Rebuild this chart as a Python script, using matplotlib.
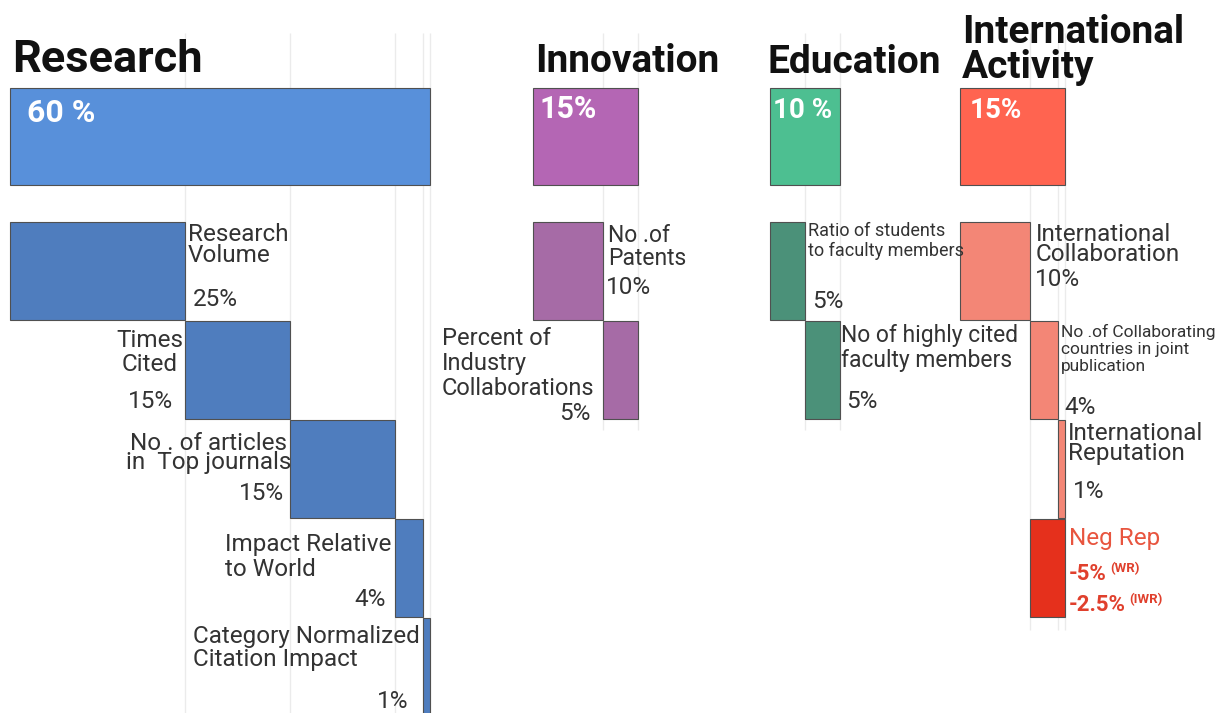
import matplotlib
matplotlib.use("Agg")
import matplotlib.pyplot as plt

plt.rcParams['font.family'] = ['Roboto', 'DejaVu Sans']

#***data
groups = ['Research', 'Innovation', 'Education', 'International\nActivity']
group_weights = [60, 15, 10, 15]
group_weight_labels = ['60 %', '15%', '10 %', '15%']

research_items = ['Research\nVolume', 'Times\nCited', 'No . of articles\nin  Top journals',
                  'Impact Relative\nto World', 'Category Normalized\nCitation Impact']
research_values = [25, 15, 15, 4, 1]

innovation_items = ['No .of\nPatents', 'Percent of\nIndustry\nCollaborations']
innovation_values = [10, 5]

education_items = ['Ratio of students\nto faculty members', 'No of highly cited\nfaculty members']
education_values = [5, 5]

international_items = ['International\nCollaboration',
                       'No .of Collaborating\ncountries in joint\npublication',
                       'International\nReputation', 'Neg Rep']
international_values = [10, 4, 1, -5]
neg_rep_labels = ['-5%', '-2.5%']
neg_rep_notes = ['(WR)', '(IWR)']

#***styles / layout
PX = 7.0  # pixels per percent point
group_x0 = [0, (533 - 10) / PX, (770 - 10) / PX, (960 - 10) / PX]
header_colors = ['#5890DA', '#B466B4', '#4DBF91', '#FF6450']
sub_colors = ['#4F7DBE', '#A66BA6', '#4B9179', '#F38676']
neg_color = '#E5301C'
text_color = '#333333'
edge = '#505050'

header_top, header_h = 0.88, 0.97
row_top0, row_step, row_h = 2.22, 0.99, 0.975

# (side, name dx, name dy, name ha, multialign, pct dx, pct dy, pct ha, size, linespacing)
research_lay = [('r', 3, 1, 'left', 'left', 8, 77, 'left', 17.5, 0.9),
                ('l', -2, 8, 'right', 'center', -12, 81, 'right', 17.5, 1.03),
                ('l', 1, 12, 'right', 'center', -6, 74, 'right', 17.5, 0.78),
                ('l', -4, 14, 'right', 'left', -9, 80, 'right', 17.5, 1.1),
                ('l', -3, 7, 'right', 'left', -15, 84, 'right', 17.5, 1.0)]
innovation_lay = [('r', 5, 2, 'left', 'left', 3, 66, 'left', 16.5, 1.0),
                  ('l', -9, 6, 'right', 'left', -12, 93, 'right', 17, 1.12)]
education_lay = [('r', 3, 0, 'left', 'left', 7, 80, 'left', 13, 1.1),
                 ('r', 1, 3, 'left', 'left', 6, 81, 'left', 16.5, 1.12)]
international_lay = [('r', 6, 1, 'left', 'left', 5, 57, 'left', 17.5, 0.85),
                     ('r', 3, 3, 'left', 'left', 6, 86, 'left', 12.5, 1.15),
                     ('r', 3, 2, 'left', 'left', 8, 72, 'left', 17.5, 0.85),
                     ('r', 4, 8, 'left', 'left', 4, 55, 'left', 17.5, 1.0)]
title_lay = [(2, 16, 32.5), (2, 16, 28), (-3, 15, 28), (2, 10, 28)]
header_lbl_lay = [(17, 25, 23), (7, 21, 22), (3, 23, 20), (10, 23, 20)]
grid_bottom = [7.13, 4.3, 4.3, 6.3]

all_items = [research_items, innovation_items, education_items, international_items]
all_values = [research_values, innovation_values, education_values, international_values]
all_lay = [research_lay, innovation_lay, education_lay, international_lay]

fig = plt.figure(figsize=(12.16, 7.13), dpi=100)
ax = fig.add_axes([0, 0, 1, 1])
ax.set_xlim(-10 / PX, (1216 - 10) / PX)
ax.set_ylim(7.13, 0)
ax.axis('off')

for g in range(len(groups)):
    x0 = group_x0[g]
    # header bar
    ax.barh(header_top + header_h / 2, group_weights[g], left=x0, height=header_h,
            color=header_colors[g], edgecolor=edge, linewidth=0.8, zorder=2)
    dx, dy, fs = header_lbl_lay[g]
    ax.annotate(group_weight_labels[g], xy=(x0, header_top), xytext=(dx, -dy),
                textcoords='offset pixels', ha='left', va='center', color='white',
                fontsize=fs, fontweight='bold', zorder=3)
    tdx, tdy, tfs = title_lay[g]
    ax.annotate(groups[g], xy=(x0, header_top), xytext=(tdx, tdy),
                textcoords='offset pixels', ha='left', va='baseline', color='#111111',
                fontsize=tfs, fontweight='bold', linespacing=0.92)
    # sub bars, cascading
    cum = 0
    ends = []
    for i, (name, v) in enumerate(zip(all_items[g], all_values[g])):
        top = row_top0 + i * row_step
        color = neg_color if v < 0 else sub_colors[g]
        ax.barh(top + row_h / 2, v, left=x0 + cum, height=row_h, color=color,
                edgecolor=edge, linewidth=0.8, zorder=2)
        lo, hi = min(cum, cum + v), max(cum, cum + v)
        side, ndx, ndy, nha, malign, pdx, pdy, pha, fs, ls = all_lay[g][i]
        anchor = x0 + (hi if side == 'r' else lo)
        if v < 0:
            ax.annotate(name, xy=(anchor, top), xytext=(ndx, -ndy), textcoords='offset pixels',
                        ha=nha, va='top', color='#E8553F', fontsize=fs)
            for k, (lbl, note) in enumerate(zip(neg_rep_labels, neg_rep_notes)):
                t = ax.annotate(lbl, xy=(anchor, top), xytext=(pdx, -(pdy + 31 * k)),
                                textcoords='offset pixels', ha='left', va='center',
                                color='#E0402D', fontsize=16, fontweight='bold')
                ax.annotate(note, xy=(1, 0.75), xycoords=t, xytext=(3, 0),
                            textcoords='offset pixels', ha='left', va='center',
                            color='#E0402D', fontsize=9.5, fontweight='bold')
        else:
            ax.annotate(name, xy=(anchor, top), xytext=(ndx, -ndy), textcoords='offset pixels',
                        ha=nha, va='top', multialignment=malign, color=text_color,
                        fontsize=fs, linespacing=ls)
            ax.annotate('%d%%' % v, xy=(anchor, top), xytext=(pdx, -pdy),
                        textcoords='offset pixels', ha=pha, va='center', color=text_color,
                        fontsize=17.5)
            ends.append(x0 + cum + v)
        cum += v
    # faint guide lines at the cumulative ends
    ax.vlines(ends, 0.33, grid_bottom[g], colors='#ebebeb', linewidth=1, zorder=0)

fig.savefig("out.png", dpi=100)
